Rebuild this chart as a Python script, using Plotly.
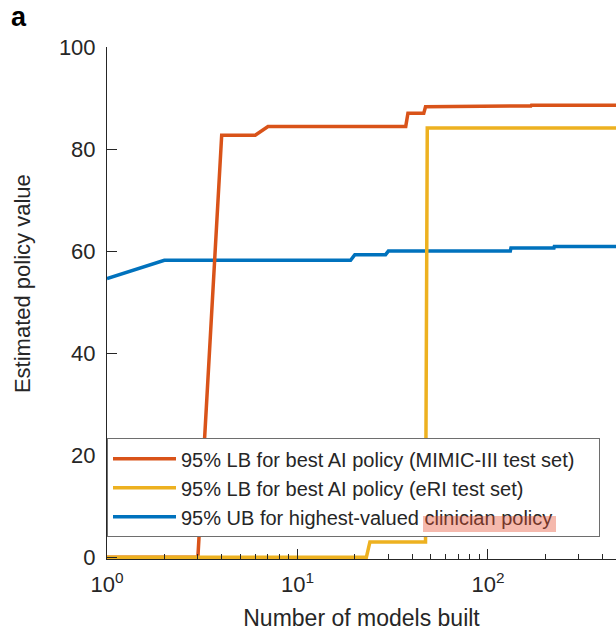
import plotly.graph_objects as go

# ---- data ----
red_x = [1, 2, 3, 4, 6, 7, 37, 38, 46, 47, 110, 111, 168, 169, 500]
red_y = [0, 0, 0, 82.7, 82.7, 84.4, 84.4, 87.0, 87.0, 88.3, 88.3, 88.45, 88.45, 88.6, 88.6]

yel_x = [1, 23, 24, 47, 48, 500]
yel_y = [0, 0, 3.0, 3.0, 84.1, 84.1]

blue_x = [1, 2, 19, 20, 29, 30, 131, 132, 222, 223, 500]
blue_y = [54.6, 58.2, 58.2, 59.3, 59.3, 60.0, 60.0, 60.6, 60.6, 60.9, 60.9]

names = ["95% LB for best AI policy (MIMIC-III test set)",
         "95% LB for best AI policy (eRI test set)",
         "95% UB for highest-valued clinician policy"]
colors = ["#D95319", "#EDB120", "#0072BD"]

xtick_vals = [1, 10, 100]
xtick_text = ["10<sup>0</sup>", "10<sup>1</sup>", "10<sup>2</sup>"]
ytick_vals = [0, 20, 40, 60, 80, 100]
minor_vals = [m * d for d in (1, 10, 100) for m in range(2, 10) if m * d < 480]

FONT = "Liberation Sans, Arial, Helvetica, sans-serif"
DARK = "#262626"
LEG_FS = 20

fig = go.Figure()
fig.add_trace(go.Scatter(x=blue_x, y=blue_y, mode="lines", name=names[2],
                         line=dict(color=colors[2], width=3.5), legendrank=3))
fig.add_trace(go.Scatter(x=red_x, y=red_y, mode="lines", name=names[0],
                         line=dict(color=colors[0], width=3.5), legendrank=1))
fig.add_trace(go.Scatter(x=yel_x, y=yel_y, mode="lines", name=names[1],
                         line=dict(color=colors[1], width=3.5), legendrank=2))

fig.update_layout(
    width=616, height=631,
    margin=dict(l=107, r=0, t=47, b=72.2),
    paper_bgcolor="white", plot_bgcolor="white",
    font=dict(family=FONT, size=22, color=DARK),
    showlegend=True,
    legend=dict(x=0, y=0.0426, xanchor="left", yanchor="bottom",
                orientation="h", entrywidth=413, entrywidthmode="pixels",
                bgcolor="white", bordercolor="#6e6e6e", borderwidth=1,
                font=dict(size=LEG_FS, color=DARK), itemwidth=63,
                traceorder="normal"),
    xaxis=dict(type="log", range=[0, 2.672], showgrid=False, zeroline=False,
               automargin=False,
               showline=True, linecolor=DARK, linewidth=1,
               ticks="inside", ticklen=10, tickwidth=1, tickcolor=DARK,
               tickmode="array", tickvals=xtick_vals, ticktext=xtick_text,
               ticklabelstandoff=6,
               minor=dict(ticks="inside", ticklen=5, tickwidth=1, tickcolor=DARK,
                          tickmode="array", tickvals=minor_vals, showgrid=False),
               title=dict(text="Number of models built", font=dict(size=23), standoff=19)),
    yaxis=dict(range=[-0.35, 100], showgrid=False, zeroline=False,
               automargin=False,
               showline=True, linecolor=DARK, linewidth=1,
               ticks="inside", ticklen=10, tickwidth=1, tickcolor=DARK,
               tickmode="array", tickvals=ytick_vals, ticklabelstandoff=6),
)

# y-axis title (placed slightly above the plot middle, as in the reference)
fig.add_annotation(text="Estimated policy value", xref="paper", yref="paper",
                   x=(22 - 107) / 509, y=(558.8 - 284) / 511.8,
                   xanchor="center", yanchor="middle", textangle=-90,
                   showarrow=False, font=dict(size=22, color=DARK))

fig.add_annotation(text="<b>a</b>", xref="paper", yref="paper",
                   x=-0.192, y=1.091, xanchor="left", yanchor="top",
                   showarrow=False, font=dict(size=27, color="black"))

# translucent highlight over "clinician policy" in the legend
fig.add_annotation(text=" ", xref="paper", yref="paper",
                   x=(423 - 107) / 509, y=(558.8 - 524) / 511.8,
                   xanchor="left", yanchor="middle", showarrow=False,
                   width=133, height=16, borderpad=0, borderwidth=0,
                   bgcolor="rgba(230,80,50,0.4)")

fig.write_html("out.html", config={"displayModeBar": False},
               post_script="document.body.style.margin='0';")
